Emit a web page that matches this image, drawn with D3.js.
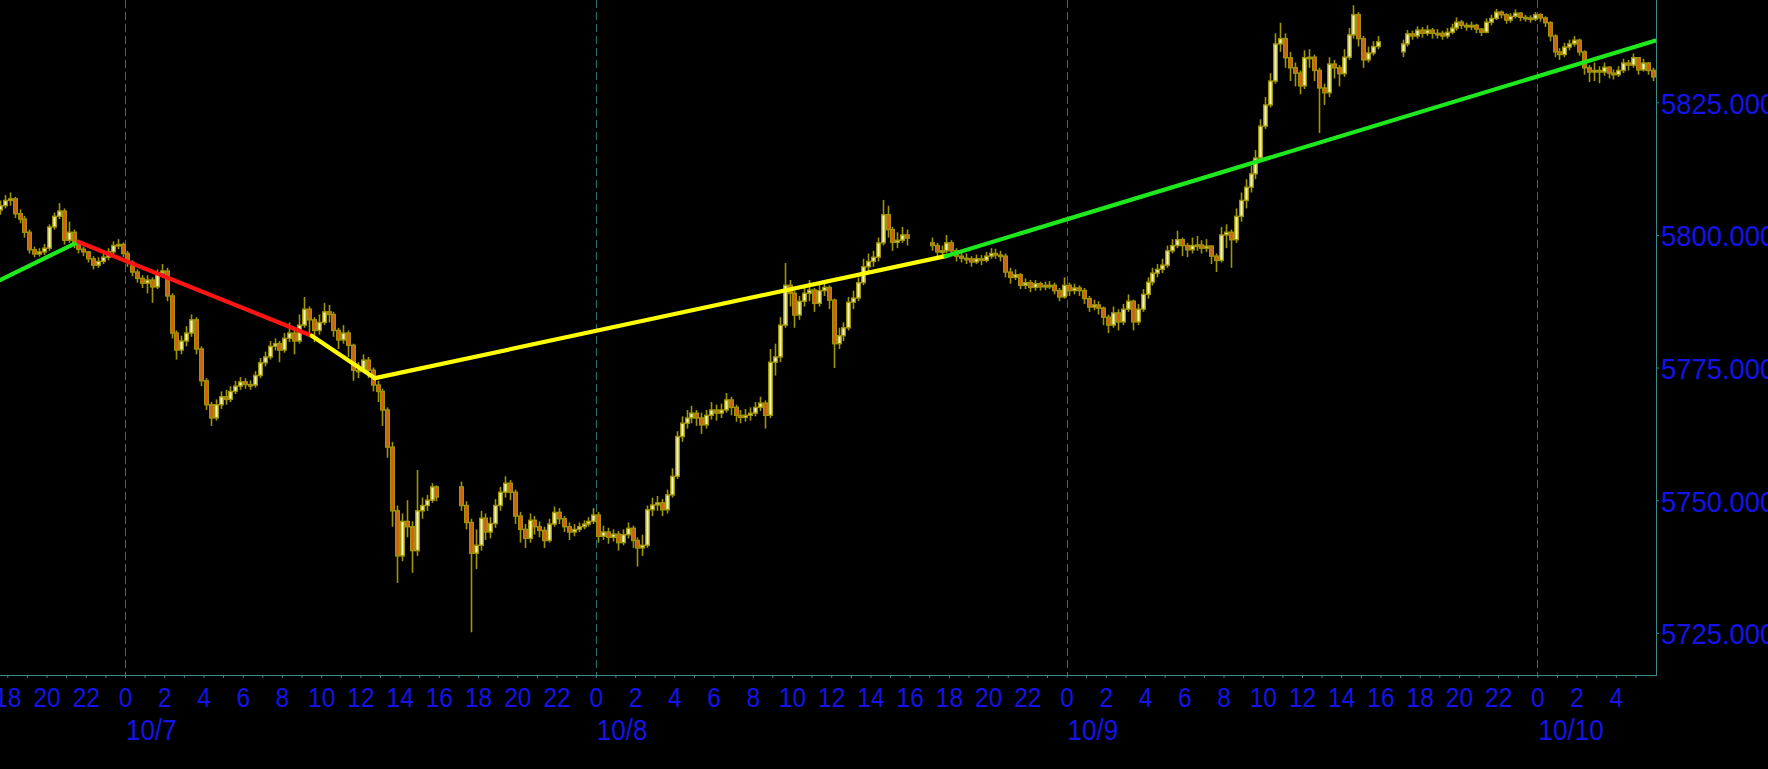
<!DOCTYPE html>
<html><head><meta charset="utf-8">
<script src="https://cdn.jsdelivr.net/npm/d3@7"></script>
<style>html,body{margin:0;padding:0;background:#000;overflow:hidden}svg{display:block}</style>
</head><body>
<svg id="chart" width="1768" height="769"></svg>
<script>
// ---------------- DATA ----------------
// times are hours relative to 10/7 00:00; 15-minute bars
const sessionStart = [-6.5, 17, 41, 65];
const sessionOpen  = [5804.7, 5752.5, 5798.5, 5834.5];

const close0 = [5805.5,5806.5,5806.8,5804.0,5803.0,5800.5,5797.2,5796.4,5796.8,5797.5,
5801.5,5803.5,5804.5,5799.0,5800.5,5798.5,5797.3,5796.8,5795.5,5794.3,
5795.0,5795.8,5796.8,5798.0,5798.2,5796.5,5794.8,5793.0,5791.8,5790.9,
5791.5,5790.2,5792.8,5793.2,5788.5,5781.5,5778.3,5780.0,5781.5,5784.0,
5778.5,5772.5,5768.0,5765.5,5768.0,5769.5,5769.0,5770.5,5771.5,5772.3,
5771.8,5771.7,5773.5,5775.9,5777.0,5779.0,5779.5,5778.3,5780.5,5781.5,
5780.0,5783.0,5786.0,5784.0,5782.0,5783.5,5785.5,5785.0,5782.0,5780.2,
5781.5,5779.2,5774.5,5774.5,5776.4,5774.5,5771.7,5770.5,5767.0,5760.0,
5748.0,5739.5,5746.0,5745.0,5740.5,5748.0,5749.0,5750.0,5752.5,5750.6];
const high0 = [5806.5,5807.5,5808.0,5807.2,5804.8,5803.6,5801.0,5797.8,5797.5,5798.3,
5802.0,5804.2,5806.0,5805.0,5802.5,5801.0,5799.0,5797.8,5797.0,5796.0,
5795.8,5796.5,5797.5,5798.8,5799.2,5798.6,5797.0,5795.2,5793.5,5792.4,
5792.4,5792.0,5793.5,5794.5,5793.8,5789.0,5782.0,5781.0,5782.8,5785.0,
5784.5,5779.0,5773.0,5768.5,5769.0,5770.5,5770.8,5771.5,5772.5,5773.2,
5773.0,5772.6,5774.3,5776.8,5778.0,5780.0,5780.5,5780.0,5781.5,5783.5,
5782.5,5785.0,5788.3,5786.5,5784.5,5785.0,5787.2,5786.8,5785.5,5782.5,
5783.0,5782.0,5779.5,5776.0,5777.5,5777.0,5775.0,5772.5,5771.0,5767.5,
5761.0,5749.0,5747.5,5750.0,5746.0,5755.7,5750.5,5751.0,5753.2,5752.8];
const low0 = [5803.8,5805.0,5805.5,5803.2,5802.2,5799.5,5796.5,5795.8,5795.9,5796.2,
5797.0,5801.0,5803.0,5798.2,5798.5,5797.5,5796.5,5796.0,5794.8,5793.5,
5793.8,5794.5,5795.2,5796.3,5797.3,5795.8,5794.0,5792.2,5791.0,5790.0,
5789.0,5787.2,5789.8,5792.0,5787.5,5780.5,5776.5,5777.5,5779.0,5780.8,
5777.5,5771.5,5767.0,5764.0,5765.0,5767.2,5768.0,5768.5,5770.0,5770.8,
5771.0,5770.8,5771.2,5773.0,5775.2,5776.5,5778.2,5776.0,5777.8,5779.8,
5777.5,5779.5,5782.5,5781.0,5779.8,5781.2,5783.0,5783.5,5780.8,5778.5,
5779.5,5777.0,5772.5,5773.0,5774.0,5773.0,5770.5,5768.5,5764.0,5758.0,
5745.0,5734.4,5738.5,5743.0,5736.3,5739.5,5746.5,5748.0,5749.5,5749.8];

const close1 = [5749.0,5745.8,5740.0,5741.5,5746.6,5744.0,5745.6,5749.0,5751.5,5753.2,
5751.5,5747.0,5744.5,5742.8,5746.2,5745.0,5744.3,5742.4,5745.5,5747.7,
5746.5,5745.0,5744.0,5744.5,5745.0,5745.5,5746.0,5747.2,5743.2,5744.0,
5743.0,5743.6,5742.0,5743.5,5744.7,5742.4,5741.0,5741.5,5748.2,5749.1,
5749.5,5748.2,5751.0,5754.5,5762.0,5764.5,5765.5,5766.4,5765.5,5764.2,
5766.0,5767.0,5766.4,5767.0,5768.9,5767.5,5766.0,5765.6,5766.0,5766.4,
5767.5,5768.3,5766.0,5776.0,5777.0,5783.0,5790.5,5789.0,5784.9,5787.5,
5789.0,5789.6,5787.1,5789.5,5790.1,5787.7,5779.5,5781.0,5782.5,5787.3,
5788.1,5791.0,5794.0,5795.0,5795.8,5798.5,5803.8,5801.0,5798.6,5799.0,
5800.0,5799.4];
const high1 = [5753.5,5749.8,5746.5,5744.5,5748.0,5747.5,5746.8,5750.2,5752.5,5754.5,
5753.8,5752.0,5747.8,5745.5,5747.5,5747.0,5746.0,5745.0,5746.5,5748.8,
5748.5,5747.0,5745.8,5745.5,5745.8,5746.2,5746.8,5748.5,5747.8,5745.2,
5744.8,5744.5,5744.2,5744.5,5745.8,5745.2,5743.0,5743.5,5749.0,5750.5,
5750.8,5750.2,5752.0,5756.0,5763.0,5765.8,5767.0,5767.8,5767.0,5766.5,
5767.0,5768.5,5768.0,5768.2,5770.2,5769.5,5768.0,5767.0,5767.2,5767.5,
5768.5,5769.5,5768.8,5778.5,5779.5,5784.5,5794.7,5791.5,5789.5,5788.5,
5790.5,5791.5,5790.0,5790.8,5791.5,5790.5,5788.0,5782.5,5783.5,5788.3,
5789.5,5792.0,5795.5,5796.5,5797.0,5799.5,5806.6,5805.5,5801.5,5800.5,
5801.5,5801.0];
const low1 = [5748.0,5744.5,5725.1,5737.0,5740.5,5742.5,5742.8,5744.8,5748.0,5750.5,
5750.0,5745.5,5742.0,5741.0,5742.0,5743.5,5743.0,5741.0,5742.0,5745.0,
5745.5,5744.0,5742.5,5743.2,5744.0,5744.5,5745.0,5745.5,5742.0,5742.5,
5741.8,5742.2,5740.5,5741.5,5742.8,5741.0,5737.5,5739.5,5741.0,5747.0,
5748.0,5747.0,5747.5,5750.5,5754.0,5761.0,5763.5,5764.5,5764.0,5762.5,
5763.5,5765.2,5765.0,5765.5,5766.5,5766.0,5764.8,5764.5,5764.8,5765.0,
5765.8,5766.8,5763.5,5765.5,5773.5,5776.0,5782.5,5786.5,5782.5,5784.0,
5786.5,5787.5,5785.5,5786.5,5788.5,5786.0,5774.9,5778.5,5780.0,5782.0,
5786.0,5787.5,5790.5,5793.0,5794.0,5795.0,5798.0,5799.5,5797.0,5797.5,
5798.5,5798.0];

const close2 = [5798.0,5796.8,5797.0,5798.5,5797.0,5796.0,5795.6,5795.5,5794.9,5795.5,
5795.2,5796.0,5796.5,5796.2,5796.0,5793.0,5792.0,5792.5,5790.5,5791.0,
5790.1,5790.8,5790.2,5790.5,5790.5,5789.5,5788.3,5790.5,5789.5,5790.0,
5789.5,5788.0,5786.4,5786.8,5786.2,5784.5,5783.0,5785.3,5783.6,5786.0,
5787.5,5783.6,5786.0,5788.8,5791.1,5792.8,5793.5,5794.3,5797.0,5798.0,
5799.1,5798.0,5797.2,5798.0,5798.1,5797.5,5797.9,5796.0,5795.2,5800.0,
5800.5,5799.1,5803.5,5806.5,5809.0,5811.5,5814.5,5820.5,5824.5,5829.0,
5836.0,5837.0,5833.4,5831.5,5830.5,5828.1,5833.4,5833.5,5831.0,5827.7,
5826.8,5832.2,5831.5,5830.4,5833.5,5837.7,5841.5,5837.0,5833.0,5834.3,
5835.5,5836.4];
const high2 = [5799.5,5798.5,5798.0,5800.0,5799.0,5797.5,5796.8,5796.5,5796.0,5796.3,
5796.2,5796.8,5797.5,5797.4,5797.0,5796.5,5793.8,5793.5,5792.8,5791.8,
5791.5,5791.5,5791.2,5791.2,5791.3,5791.0,5790.0,5792.0,5791.0,5790.8,
5790.5,5790.0,5788.5,5787.8,5787.5,5786.5,5785.0,5786.5,5786.0,5787.0,
5788.8,5787.8,5787.0,5789.8,5792.0,5793.8,5794.5,5795.5,5798.0,5799.2,
5800.8,5799.5,5798.5,5799.5,5799.8,5799.0,5799.2,5798.0,5796.5,5801.5,
5802.0,5801.0,5805.0,5808.0,5810.5,5813.0,5816.0,5821.8,5826.0,5830.5,
5838.0,5840.0,5838.0,5834.5,5832.5,5831.0,5834.8,5835.0,5834.0,5831.5,
5828.5,5833.5,5833.0,5832.0,5835.0,5839.0,5843.3,5842.0,5837.5,5835.5,
5836.5,5837.5];
const low2 = [5797.0,5795.8,5796.0,5796.5,5796.2,5795.0,5794.8,5794.5,5794.0,5794.5,
5794.3,5794.8,5795.5,5795.5,5795.0,5792.0,5790.8,5791.5,5789.8,5789.8,
5789.2,5789.5,5789.5,5789.6,5789.8,5788.8,5787.5,5788.0,5788.5,5788.8,
5788.5,5787.0,5785.5,5785.8,5785.0,5783.0,5781.5,5782.5,5782.0,5783.0,
5785.5,5782.0,5783.0,5785.5,5788.0,5790.5,5792.0,5792.8,5793.8,5796.5,
5797.5,5796.0,5795.8,5796.5,5797.0,5796.5,5796.8,5794.5,5793.0,5794.8,
5797.5,5793.8,5798.5,5802.5,5805.0,5808.0,5810.5,5814.0,5820.0,5824.0,
5828.5,5834.5,5831.5,5829.0,5828.0,5826.5,5827.5,5831.5,5829.0,5819.2,
5824.5,5826.0,5829.5,5828.0,5829.8,5833.0,5837.0,5835.5,5831.5,5832.5,
5833.8,5835.0];

const close3 = [5836.0,5837.9,5837.5,5838.6,5838.0,5838.6,5838.0,5838.0,5837.5,5838.2,
5839.0,5840.1,5839.5,5839.2,5839.5,5838.8,5838.2,5840.1,5840.8,5842.0,
5841.5,5840.5,5841.2,5841.8,5841.0,5840.9,5840.7,5841.5,5840.9,5840.0,
5837.5,5834.5,5834.0,5835.4,5836.0,5836.7,5834.5,5831.5,5830.7,5831.0,
5830.7,5831.6,5830.5,5830.2,5831.0,5832.4,5832.0,5833.4,5831.1,5832.4,
5831.0,5829.8];
const high3 = [5836.8,5838.6,5838.5,5839.3,5839.2,5839.5,5839.0,5838.8,5838.5,5839.0,
5839.8,5841.0,5840.5,5840.0,5840.2,5839.8,5839.0,5840.8,5841.5,5842.6,
5842.3,5841.8,5841.8,5842.5,5842.0,5841.5,5841.4,5842.0,5841.8,5841.2,
5840.3,5837.8,5835.2,5836.2,5836.8,5837.5,5837.0,5834.8,5832.0,5832.5,
5831.8,5832.5,5831.8,5831.2,5831.8,5833.2,5833.0,5834.2,5833.5,5833.2,
5832.6,5831.5];
const low3 = [5833.5,5835.5,5836.8,5837.0,5837.2,5837.5,5837.0,5837.0,5836.8,5837.0,
5837.8,5838.5,5838.8,5838.5,5838.6,5838.0,5837.5,5838.0,5839.5,5840.5,
5840.8,5839.8,5840.0,5840.8,5840.3,5840.2,5840.0,5840.3,5840.2,5839.2,
5836.5,5833.5,5833.0,5833.5,5834.8,5835.5,5833.8,5830.2,5828.8,5829.0,
5828.6,5830.0,5829.5,5829.3,5829.8,5830.5,5831.0,5831.5,5830.2,5830.8,
5830.2,5829.0];

// zigzag trend line (hours, price) and colours of each segment
const zigzagHours  = [-6.372, -2.381, 9.517, 12.744, 41.83, 77.99];
const zigzagPrices = [5791.5, 5798.7, 5781.0, 5773.0, 5796.0, 5836.6];
const zigzagColors = ["#1ee81e", "#ff1414", "#ffff00", "#ffff00", "#1ee81e"];

const yTicks = [5725, 5750, 5775, 5800, 5825];
const viewHours = [-6.372, 78.046];
const priceRange = [5717.05, 5844.28];

// ---------------- CHART ----------------
const W = 1768, H = 769;
const plotW = 1656, plotH = 675;
const BASE = new Date(2024, 9, 7, 0, 0, 0);
const toDate = h => new Date(BASE.getTime() + h * 3600e3);

const x = d3.scaleTime().domain(viewHours.map(toDate)).range([0, plotW]);
const y = d3.scaleLinear().domain(priceRange).range([plotH, 0]);

const svg = d3.select("#chart");
svg.append("rect").attr("width", W).attr("height", H).attr("fill", "#000");

svg.append("defs").append("clipPath").attr("id", "plotclip")
  .append("rect").attr("x", 0).attr("y", 0).attr("width", plotW).attr("height", plotH);

const axisColor = "#3a8a8a";
const blue = "#1414e6";
const fontFam = "'Liberation Sans', Arial, sans-serif";

// midnight grid lines
const midnights = d3.timeDay.range(toDate(viewHours[0]), toDate(viewHours[1]));
svg.append("g").selectAll("line").data(midnights).join("line")
  .attr("x1", d => Math.round(x(d)) + 0.5).attr("x2", d => Math.round(x(d)) + 0.5)
  .attr("y1", 0).attr("y2", plotH)
  .attr("stroke", "#2b7272").attr("stroke-width", 1)
  .attr("stroke-dasharray", "8,4");

// candles
const bars = [];
const sessions = [[close0, high0, low0], [close1, high1, low1], [close2, high2, low2], [close3, high3, low3]];
sessions.forEach(([c, h, l], s) => {
  c.forEach((cv, k) => {
    const o = k === 0 ? sessionOpen[s] : c[k - 1];
    bars.push({t: toDate(sessionStart[s] + 0.25 * k + 0.125), o, h: h[k], l: l[k], c: cv});
  });
});

const olive = "#9e9406";
const cg = svg.append("g").attr("clip-path", "url(#plotclip)");
const candle = cg.selectAll("g.c").data(bars).join("g").attr("class", "c");
candle.append("line")
  .attr("x1", d => Math.round(x(d.t)) + 0.5).attr("x2", d => Math.round(x(d.t)) + 0.5)
  .attr("y1", d => y(d.h)).attr("y2", d => y(d.l))
  .attr("stroke", olive).attr("stroke-width", 1.6);
candle.append("rect")
  .attr("x", d => Math.round(x(d.t)) - 1.3)
  .attr("width", 3.6)
  .attr("y", d => y(Math.max(d.o, d.c)))
  .attr("height", d => Math.max(1.5, Math.abs(y(d.o) - y(d.c))))
  .attr("fill", d => d.c >= d.o ? "#f6f6b4" : "#e0541a")
  .attr("stroke", olive).attr("stroke-width", 1.4);

// zigzag trend lines
const line = d3.line().x(d => x(toDate(d[0]))).y(d => y(d[1]));
const tg = svg.append("g").attr("clip-path", "url(#plotclip)");
zigzagColors.forEach((col, i) => {
  tg.append("path")
    .attr("d", line([[zigzagHours[i], zigzagPrices[i]], [zigzagHours[i + 1], zigzagPrices[i + 1]]]))
    .attr("stroke", col).attr("stroke-width", 4.2).attr("fill", "none").attr("stroke-linecap", "round");
});

// x axis
const hourTicks = d3.timeHour.range(d3.timeHour.ceil(toDate(viewHours[0])), toDate(77.5));
const xAxis = d3.axisBottom(x).tickValues(hourTicks).tickSize(3).tickSizeOuter(0)
  .tickFormat(d => d.getHours() % 2 === 0 ? String(d.getHours()) : "");
const gx = svg.append("g").attr("transform", `translate(0,${plotH})`).call(xAxis);
gx.select(".domain").attr("stroke", axisColor).attr("d", `M0,0.5H${plotW}`);
gx.selectAll(".tick line").attr("stroke", axisColor);
gx.selectAll(".tick text").attr("fill", blue).attr("y", 32).attr("dy", null)
  .attr("font-family", fontFam).attr("font-size", 28.5)
  .attr("transform", "scale(0.86,1)");

// date labels
svg.append("g").selectAll("g").data(midnights).join("g")
  .attr("transform", d => `translate(${x(d) + 1},740)`)
  .append("text")
  .attr("fill", blue).attr("font-family", fontFam).attr("font-size", 29)
  .attr("transform", "scale(0.9,1)")
  .text(d3.timeFormat("%-m/%-d"));

// y axis
const yScaleX = 0.93;
const yAxis = d3.axisRight(y).tickValues(yTicks).tickSize(3).tickSizeOuter(0).tickFormat(d3.format(".3f"));
const gy = svg.append("g").attr("transform", `translate(${plotW},0)`).call(yAxis);
gy.select(".domain").attr("stroke", axisColor).attr("d", `M0.5,0V${plotH + 1}`);
gy.selectAll(".tick line").attr("stroke", axisColor);
gy.selectAll(".tick text").attr("fill", blue).attr("x", 5 / yScaleX).attr("dy", null).attr("y", 11)
  .attr("font-family", fontFam).attr("font-size", 29.5)
  .attr("transform", `scale(${yScaleX},1)`);
</script>
</body></html>
